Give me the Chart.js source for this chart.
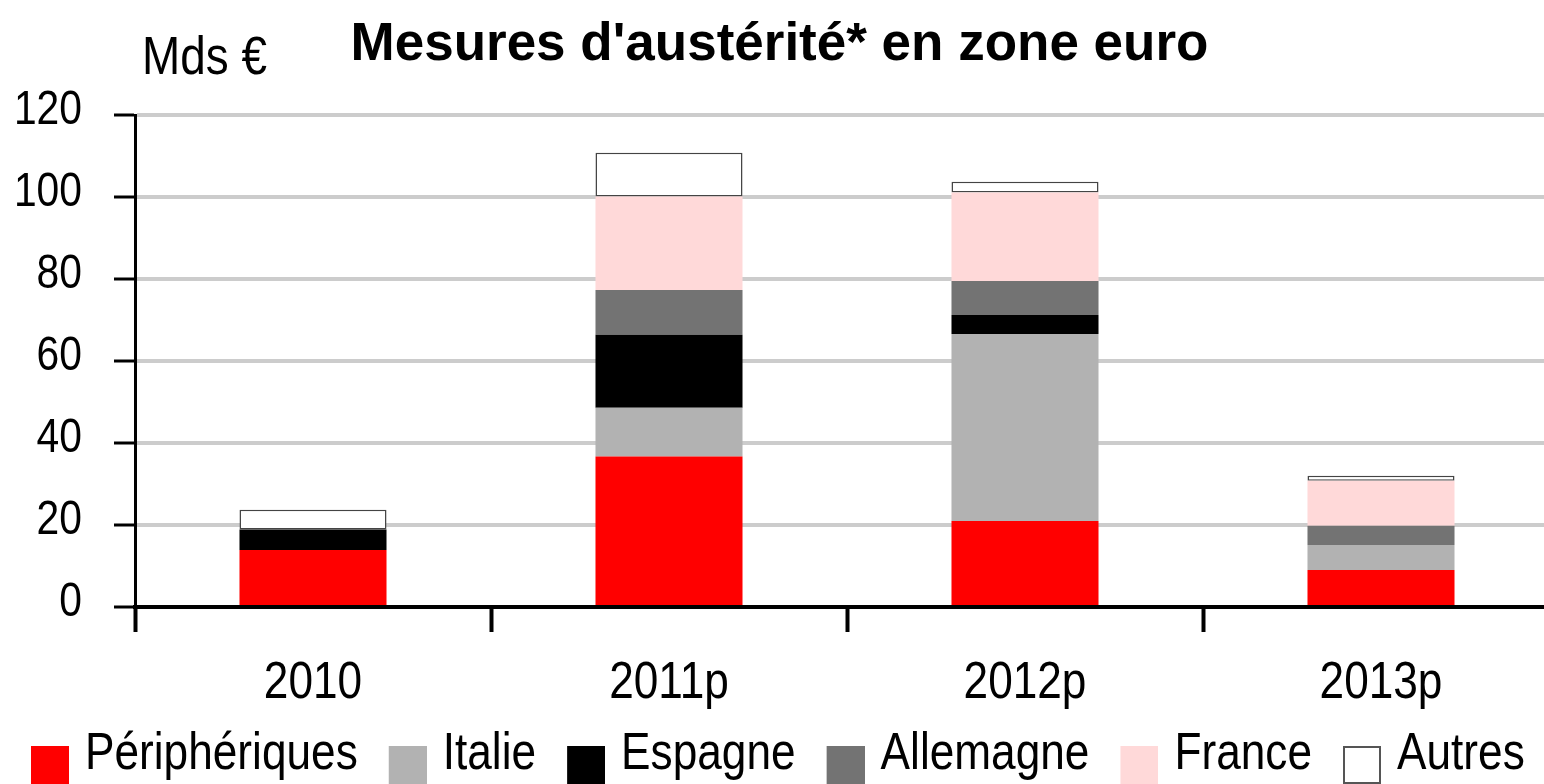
<!DOCTYPE html>
<html>
<head>
<meta charset="utf-8">
<script src="https://cdn.jsdelivr.net/npm/chart.js"></script>
<style>
  html, body { margin:0; padding:0; overflow:hidden; background:#fff; }
  #wrap { position:absolute; left:0; top:0; width:1560px; height:791px; }
</style>
</head>
<body>
<div id="wrap"><canvas id="chart"></canvas></div>
<script>
// données (Mds €)
const years = ["2010", "2011p", "2012p", "2013p"];
const peripheriques = [13.9, 36.7, 21, 9];
const italie = [0, 11.9, 45.6, 6.1];
const espagne = [5, 17.8, 4.6, 0];
const allemagne = [0, 10.9, 8.3, 4.7];
const france = [0, 22.8, 21.6, 11];
const autres = [4.8, 10.7, 2.6, 1.2];
const yTicks = [0, 20, 40, 60, 80, 100, 120];

const seriesNames = ["Périphériques", "Italie", "Espagne", "Allemagne", "France", "Autres"];
const seriesData = [peripheriques, italie, espagne, allemagne, france, autres];
const colors = ["#ff0000", "#b2b2b2", "#000000", "#737373", "#ffd9d9", "#ffffff"];

const FONT = "'Liberation Sans', Arial, sans-serif";
const SX = 0.85; // texte étroit (pas de police "narrow" installée)

// texte condensé horizontalement (sauf le gras du titre)
function narrowText(ctx){
  const fill = ctx.fillText.bind(ctx);
  const measure = ctx.measureText.bind(ctx);
  ctx.fillText = function(t, x, y){
    if(/bold/.test(ctx.font)) return fill(t, x, y);
    ctx.save();
    ctx.translate(x, y);
    ctx.scale(SX, 1);
    fill(t, 0, 0);
    ctx.restore();
  };
  ctx.measureText = function(t){
    const m = measure(t);
    if(/bold/.test(ctx.font)) return m;
    return {
      width: m.width * SX,
      actualBoundingBoxAscent: m.actualBoundingBoxAscent,
      actualBoundingBoxDescent: m.actualBoundingBoxDescent,
      actualBoundingBoxLeft: m.actualBoundingBoxLeft * SX,
      actualBoundingBoxRight: m.actualBoundingBoxRight * SX
    };
  };
}

// icônes de légende : carré 38px, en bas à droite de l'image
const BOXW = 42;
function makeIcon(fill, stroke){
  const c = document.createElement("canvas");
  c.width = BOXW + 20; c.height = 58;
  const g = c.getContext("2d");
  const x0 = c.width - 38;
  g.fillStyle = fill;
  g.fillRect(x0, 20, 38, 38);
  if(stroke){
    g.strokeStyle = stroke; g.lineWidth = 2;
    g.strokeRect(x0 + 1, 21, 36, 36);
  }
  return c;
}
const icons = colors.map((c, i) => makeIcon(c, i === 5 ? "#555" : null));

// "Mds €" en haut à gauche
const unitLabel = {
  id: "unitLabel",
  afterDraw(chart){
    const c = chart.ctx;
    c.save();
    c.font = "54px " + FONT;
    c.fillStyle = "#000";
    c.textAlign = "left";
    c.textBaseline = "alphabetic";
    c.fillText("Mds €", 142, 74);
    c.restore();
  }
};

const datasets = seriesNames.map((name, i) => ({
  label: name,
  data: seriesData[i],
  backgroundColor: colors[i],
  borderColor: i === 5 ? "#444" : colors[i],
  borderWidth: i === 5 ? 1.5 : 0,
  borderSkipped: false,
  barPercentage: 0.413,
  categoryPercentage: 1
}));

const canvas = document.getElementById("chart");
narrowText(canvas.getContext("2d"));

new Chart(canvas, {
  type: "bar",
  data: { labels: years, datasets },
  plugins: [unitLabel],
  options: {
    responsive: true,
    maintainAspectRatio: false,
    animation: false,
    layout: { padding: { top: 0, left: 0, right: 1, bottom: 0 } },
    plugins: {
      tooltip: { enabled: false },
      title: {
        display: true,
        text: "Mesures d'austérité* en zone euro",
        color: "#000",
        font: { family: FONT, size: 53, weight: "bold", lineHeight: 1 },
        padding: { top: 19, bottom: 43 }
      },
      legend: {
        position: "bottom",
        align: "start",
        labels: {
          color: "#000",
          font: { family: FONT, size: 52 },
          usePointStyle: true,
          boxWidth: BOXW,
          boxHeight: 38,
          padding: 17,
          generateLabels(chart){
            const items = Chart.defaults.plugins.legend.labels.generateLabels(chart);
            items.forEach(it => { it.pointStyle = icons[it.datasetIndex]; });
            return items;
          }
        }
      }
    },
    scales: {
      x: {
        stacked: true,
        afterFit(s){ s.height = 105; },
        grid: {
          display: true,
          offset: true,
          drawOnChartArea: false,
          drawTicks: true,
          tickLength: 25,
          tickColor: "#000",
          tickWidth: 4
        },
        border: { display: true, color: "#000", width: 4, z: 1 },
        ticks: {
          color: "#000",
          font: { family: FONT, size: 52 },
          padding: 20,
          maxRotation: 0
        }
      },
      y: {
        stacked: true,
        min: 0,
        max: 120,
        afterFit(s){ s.width = 135; },
        afterBuildTicks(s){ s.ticks = yTicks.map(v => ({ value: v })); },
        grid: {
          color: ctx => (ctx.tick && ctx.tick.value === 0) ? "rgba(0,0,0,0)" : "#cccccc",
          lineWidth: 4,
          drawTicks: true,
          tickLength: 21,
          tickColor: "#000",
          tickWidth: 3
        },
        border: { display: true, color: "#000", width: 3 },
        ticks: {
          color: "#000",
          font: { family: FONT, size: 48 },
          padding: 32,
          labelOffset: -4
        }
      }
    }
  }
});
</script>
</body>
</html>
